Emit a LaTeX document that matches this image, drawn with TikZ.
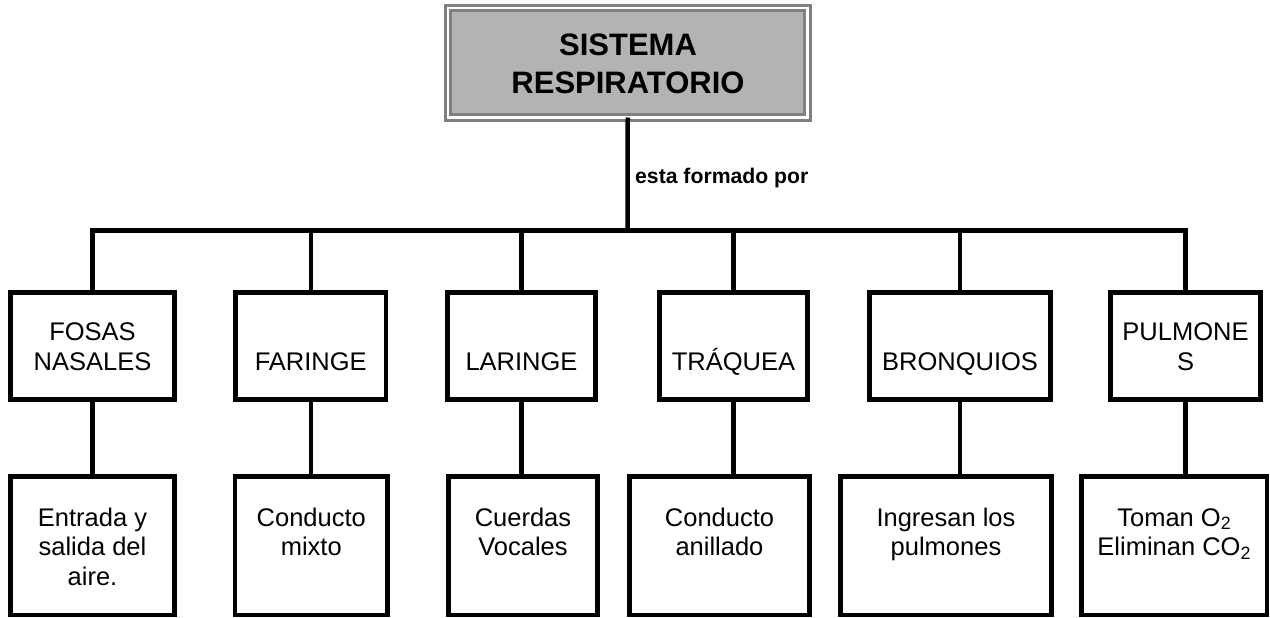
\documentclass[tikz,border=0pt]{standalone}
\usepackage{fontspec}
\setmainfont{Liberation Sans}
\definecolor{bordergray}{HTML}{808080}
\definecolor{fillgray}{HTML}{B3B3B3}
\tikzset{
  box/.style={draw=black, line width=4.5, inner sep=0pt, outer sep=0pt, minimum width=#1},
  rowone/.style={box=#1, minimum height=107},
  rowtwo/.style={box=#1, minimum height=138.5},
  txt/.style={anchor=base, align=center, inner sep=0pt, font=\fontsize{25.5}{29.5}\selectfont},
  conn/.style={draw=black, line width=4.5},
  titlebox/.style={draw=bordergray, line width=3, double=white, double distance=2.5, fill=fillgray,
     inner sep=0pt, outer sep=0pt, minimum width=359.5, minimum height=109.5},
}
\begin{document}
\begin{tikzpicture}[x=1pt,y=-1pt]
\useasboundingbox (0,0) rectangle (1270,618);
% title
\node[titlebox] (top) at (627.75,62.75) {};
\node[anchor=base, align=center, inner sep=0pt, font=\fontsize{31}{38}\selectfont\bfseries] (toptxt) at (628,93) {SISTEMA\\RESPIRATORIO};
\coordinate (busM) at (627.5,230.5);
\node[anchor=base west, inner sep=0pt, font=\fontsize{21.2}{24}\selectfont\bfseries] (lbl) at (635,183) {esta formado por};
% row one boxes
\node[rowone=164]   (r1a) at (92.5,346) {};
\node[rowone=150.5] (r1b) at (310.75,346) {};
\node[rowone=148]   (r1c) at (521.5,346) {};
\node[rowone=148]   (r1d) at (733.5,346) {};
\node[rowone=181]   (r1e) at (960,346) {};
\node[rowone=150]   (r1f) at (1185.5,346) {};
% row two boxes
\node[rowtwo=164]   (r2a) at (92.5,545.75) {};
\node[rowtwo=152.5] (r2b) at (311.25,545.75) {};
\node[rowtwo=149]   (r2c) at (523,545.75) {};
\node[rowtwo=180]   (r2d) at (719.5,545.75) {};
\node[rowtwo=211]   (r2e) at (946,545.75) {};
\node[rowtwo=185.5] (r2f) at (1174.25,545.75) {};
% row one texts
\node[txt] (t1a) at (92.5,370) {FOSAS\\NASALES};
\node[txt] (t1b) at (310.75,370) {FARINGE};
\node[txt] (t1c) at (521.5,370) {LARINGE};
\node[txt] (t1d) at (733.5,370) {TRÁQUEA};
\node[txt] (t1e) at (960,370) {BRONQUIOS};
\node[txt] (t1f) at (1185.5,370) {PULMONE\\S};
% row two texts
\node[txt] (t2a) at (92.5,585) {Entrada y\\salida del\\aire.};
\node[txt] (t2b) at (311.25,555.5) {Conducto\\mixto};
\node[txt] (t2c) at (523,555.5) {Cuerdas\\Vocales};
\node[txt] (t2d) at (719.5,555.5) {Conducto\\anillado};
\node[txt] (t2e) at (946,555.5) {Ingresan los\\pulmones};
\node[txt] (t2f) at (1174.25,555.5) {Toman O\textsubscript{2}\\Eliminan CO\textsubscript{2}};
% connectors
\draw[conn] (top.south) -- (busM);
\draw[conn] (r1a.north) -- (r1a.north |- busM) -- (r1f.north |- busM) -- (r1f.north);
\foreach \n in {b,c,d,e} { \draw[conn] (r1\n.north) -- (r1\n.north |- busM); }
\foreach \n in {a,b,c,d,e,f} { \draw[conn] (r1\n.south) -- (r1\n.south |- r2\n.north); }
\end{tikzpicture}
\end{document}
